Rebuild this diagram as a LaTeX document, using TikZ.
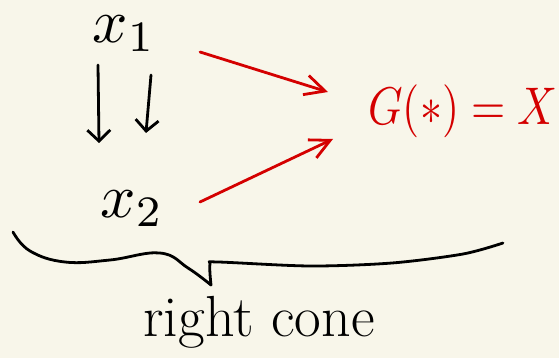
\documentclass[tikz,border=0pt]{standalone}
\usetikzlibrary{arrows.meta}
\definecolor{paper}{HTML}{F8F6EA}
\definecolor{inkred}{HTML}{D40000}
\tikzset{
  ink/.style={line width=2.8pt, line cap=round, line join=round, black},
  redink/.style={line width=2.8pt, line cap=round, line join=round, inkred},
  blkarrow/.style={ink, -{Straight Barb[length=11pt,width=23pt,line width=2.8pt]}},
  redarrow/.style={redink, -{Straight Barb[length=20pt,width=20pt,line width=2.8pt]}},
  lbl/.style={inner sep=0pt, outer sep=0pt},
}
\begin{document}
\begin{tikzpicture}[x=1pt,y=-1pt]
  \fill[paper] (0,0) rectangle (559,358);
  \useasboundingbox (0,0) rectangle (559,358);
  % nodes
  \node[lbl, scale=6.2] (x1) at (124,34) {$x_1$};
  \node[lbl, scale=6.2] (x2) at (132,209) {$x_2$};
  \node[lbl, inkred, xscale=4.4, yscale=5.3] (G) at (463,111) {$G(*)=X$};
  \node[lbl, font=\fontsize{58}{58}\selectfont] (cone) at (259,322) {right cone};
  % coordinates for connector ends
  \coordinate (d1a) at (98,65);
  \coordinate (d1b) at (99,143);
  \coordinate (d2a) at (151,75);
  \coordinate (d2b) at (146,133);
  \coordinate (r1a) at (200,52);
  \coordinate (r1b) at (328,92);
  \coordinate (r2a) at (200,202);
  \coordinate (r2b) at (333,139);
  % arrows
  \draw[blkarrow] (d1a) -- (d1b);
  \draw[blkarrow] (d2a) -- (d2b);
  \draw[redarrow] (r1a) -- (r1b);
  \draw[redarrow] (r2a) -- (r2b);
  % brace
  \draw[ink] plot[smooth, tension=0.7] coordinates {(13,232) (30,251) (65,262) (110,260) (160,253) (188,268) (211,285)};
  \draw[ink] plot[smooth, tension=0.5] coordinates {(211,285) (210,264) (218,262) (310,266) (392,263) (463,254) (503,243)};
\end{tikzpicture}
\end{document}
